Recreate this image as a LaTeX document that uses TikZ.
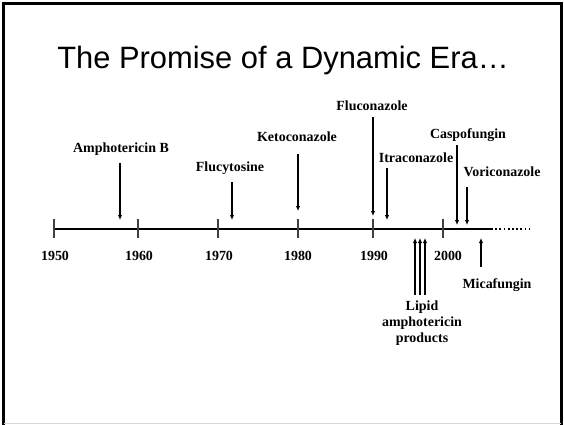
\documentclass[tikz,border=0pt]{standalone}
\usepackage{fontspec}
\setmainfont{Liberation Serif}
\newfontfamily\titlefont{Liberation Sans}
\usetikzlibrary{arrows.meta}
\begin{document}
\begin{tikzpicture}[x=1bp,y=-1bp,
  lbl/.style={font=\fontsize{14}{16}\selectfont\bfseries, inner sep=0pt, anchor=base},
  yr/.style={font=\fontsize{14}{16}\selectfont\bfseries, inner sep=0pt, anchor=base},
  arr/.style={line width=1.6bp, -{Latex[length=5bp,width=4.5bp]}},
  tick/.style={line width=1.2bp, draw=black!75},
  axisline/.style={line width=2.4bp}]
\useasboundingbox (0,0) rectangle (564,424);
% frame
\draw[line width=3bp] (3.5,425) -- (3.5,3) -- (561,3) -- (561,425);
\draw[black!15, line width=1bp] (3.5,423.5) -- (561,423.5);
% title
\node[font=\titlefont\fontsize{31}{36}\selectfont, inner sep=0pt, anchor=base] (title) at (283,68) {The Promise of a Dynamic Era\ldots};
% axis
\coordinate (axS) at (54,229);
\coordinate (axE) at (491,229);
\coordinate (dotE) at (530,229);
\draw[axisline] (axS) -- (axE);
\draw[line width=1.8bp, dash pattern=on 1.8bp off 2.4bp] (axE) -- (dotE);
% ticks
\foreach \x/\n in {54/a,138/b,218/c,298/d,373/e,443/f}{
  \coordinate (t\n u) at (\x,219);
  \coordinate (t\n d) at (\x,238);
  \draw[tick] (t\n u) -- (t\n d);
}
% years
\node[yr] (y1950) at (55,260) {1950};
\node[yr] (y1960) at (139,260) {1960};
\node[yr] (y1970) at (219,260) {1970};
\node[yr] (y1980) at (298,260) {1980};
\node[yr] (y1990) at (374,260) {1990};
\node[yr] (y2000) at (448,260) {2000};
% labels
\node[lbl] (ampho) at (121,152) {Amphotericin B};
\node[lbl] (fluc) at (230,171) {Flucytosine};
\node[lbl] (keto) at (297,141) {Ketoconazole};
\node[lbl] (flucon) at (372,110) {Fluconazole};
\node[lbl] (itra) at (416,162) {Itraconazole};
\node[lbl] (caspo) at (468,138) {Caspofungin};
\node[lbl] (vori) at (502,176) {Voriconazole};
\node[lbl] (mica) at (497,288) {Micafungin};
\node[font=\fontsize{14}{16}\selectfont\bfseries, inner sep=0pt, align=center] (lipid) at (422,323) {Lipid\\[0pt]amphotericin\\[0pt]products};
% arrows down
\coordinate (a1s) at (120,163); \coordinate (a1e) at (120,220);
\coordinate (a2s) at (232,182); \coordinate (a2e) at (232,220);
\coordinate (a3s) at (298,154); \coordinate (a3e) at (298,211);
\coordinate (a4s) at (373,117); \coordinate (a4e) at (373,216);
\coordinate (a5s) at (387,168); \coordinate (a5e) at (387,220);
\coordinate (a6s) at (457,145); \coordinate (a6e) at (457,225);
\coordinate (a7s) at (467,187); \coordinate (a7e) at (467,225);
\foreach \i in {1,...,7}{\draw[arr] (a\i s) -- (a\i e);}
% arrows up
\coordinate (m1s) at (481,267); \coordinate (m1e) at (481,238);
\coordinate (l1s) at (415,295); \coordinate (l1e) at (415,238);
\coordinate (l2s) at (420,295); \coordinate (l2e) at (420,238);
\coordinate (l3s) at (425,295); \coordinate (l3e) at (425,238);
\foreach \n in {m1,l1,l2,l3}{\draw[arr] (\n s) -- (\n e);}
\end{tikzpicture}
\end{document}
